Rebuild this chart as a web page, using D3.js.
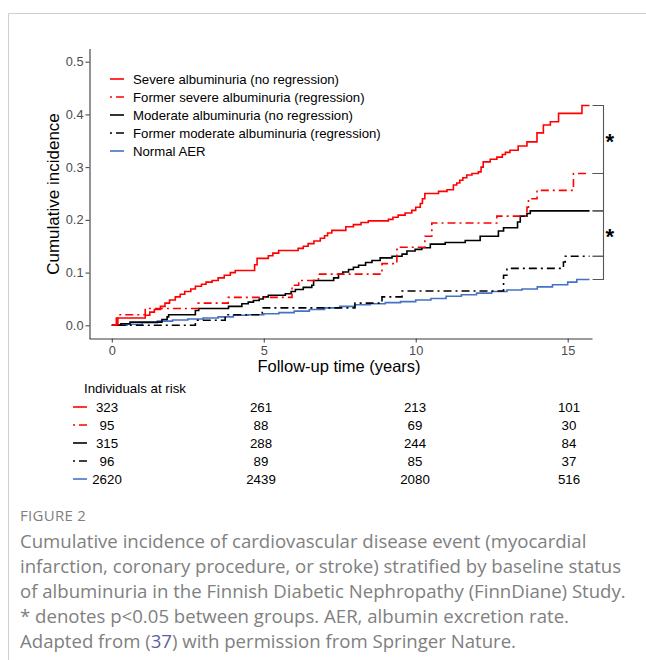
<!DOCTYPE html>
<html>
<head>
<meta charset="utf-8">
<script src="https://cdn.jsdelivr.net/npm/d3@7"></script>
<style>
  html, body { margin: 0; padding: 0; background: #fff; }
  svg { display: block; }
</style>
</head>
<body>
<svg id="chart" width="646" height="660"></svg>
<script>
// ---------------- DATA ----------------
const seriesNames = [
  "Severe albuminuria (no regression)",
  "Former severe albuminuria (regression)",
  "Moderate albuminuria (no regression)",
  "Former moderate albuminuria (regression)",
  "Normal AER"
];
const endTime = 15.72;

const severeT = [0, 0.15, 1.1, 1.25, 1.4, 1.6, 1.75, 1.9, 2.09, 2.25, 2.4, 2.6, 2.75, 2.95, 3.1, 3.3, 3.5, 3.7, 3.9, 4.06, 4.7, 4.78, 5.15, 5.3, 5.49, 6.13, 6.3, 6.46, 6.65, 6.86, 7.0, 7.1, 7.24, 7.7, 7.95, 8.2, 8.44, 9.1, 9.25, 9.42, 9.65, 9.87, 10.0, 10.15, 10.22, 10.3, 10.75, 11.03, 11.24, 11.35, 11.45, 11.55, 11.68, 11.85, 12.06, 12.15, 12.22, 12.45, 12.67, 12.85, 12.95, 13.1, 13.37, 13.66, 13.99, 14.2, 14.43, 14.7, 15.47];
const severeV = [0, 0.014, 0.019, 0.025, 0.030, 0.036, 0.042, 0.048, 0.054, 0.059, 0.064, 0.069, 0.074, 0.078, 0.082, 0.085, 0.090, 0.095, 0.100, 0.104, 0.115, 0.127, 0.132, 0.137, 0.142, 0.146, 0.150, 0.155, 0.160, 0.165, 0.170, 0.175, 0.180, 0.187, 0.191, 0.195, 0.198, 0.201, 0.205, 0.209, 0.213, 0.218, 0.224, 0.231, 0.240, 0.250, 0.254, 0.257, 0.266, 0.270, 0.275, 0.280, 0.285, 0.288, 0.291, 0.300, 0.310, 0.315, 0.319, 0.324, 0.328, 0.332, 0.340, 0.348, 0.365, 0.380, 0.386, 0.402, 0.417];

const formerSevereT = [0, 0.2, 1.1, 2.84, 3.83, 5.93, 6.15, 6.8, 8.89, 9.38, 9.5, 10.3, 10.53, 12.67, 13.66, 13.71, 13.99, 15.19];
const formerSevereV = [0, 0.020, 0.032, 0.042, 0.053, 0.076, 0.085, 0.097, 0.117, 0.144, 0.148, 0.169, 0.194, 0.207, 0.224, 0.240, 0.256, 0.288];

const moderateT = [0, 0.3, 0.6, 1.65, 1.82, 1.87, 2.75, 2.86, 3.84, 4.28, 4.49, 4.66, 4.85, 4.98, 5.15, 5.71, 5.9, 6.04, 6.3, 6.58, 6.64, 7.3, 7.46, 7.6, 7.79, 7.95, 8.12, 8.35, 8.56, 8.83, 9.22, 9.55, 9.71, 9.98, 10.2, 10.48, 10.97, 11.63, 12.12, 12.72, 12.89, 13.35, 13.44, 13.66, 13.77];
const moderateV = [0, 0.003, 0.006, 0.011, 0.016, 0.020, 0.028, 0.032, 0.036, 0.041, 0.044, 0.047, 0.050, 0.054, 0.057, 0.060, 0.064, 0.068, 0.072, 0.076, 0.085, 0.090, 0.097, 0.101, 0.106, 0.110, 0.114, 0.119, 0.123, 0.128, 0.131, 0.135, 0.141, 0.144, 0.147, 0.154, 0.157, 0.161, 0.169, 0.179, 0.185, 0.196, 0.207, 0.212, 0.217];

const formerModerateT = [0, 2.75, 3.73, 4.95, 8.0, 8.89, 9.55, 12.89, 13.0, 14.86, 14.92];
const formerModerateV = [0, 0.0095, 0.020, 0.033, 0.042, 0.054, 0.065, 0.095, 0.108, 0.120, 0.131];

const normalT = [0, 0.5, 1, 1.5, 2, 2.5, 3, 3.5, 4, 4.5, 5, 5.5, 6, 6.5, 7, 7.5, 8, 8.5, 9, 9.5, 10, 10.5, 11, 11.5, 12, 12.5, 13, 13.5, 14, 14.5, 15, 15.3];
const normalV = [0, 0.002, 0.005, 0.008, 0.010, 0.012, 0.014, 0.016, 0.019, 0.020, 0.022, 0.024, 0.027, 0.030, 0.033, 0.036, 0.039, 0.041, 0.043, 0.045, 0.048, 0.051, 0.055, 0.058, 0.061, 0.064, 0.067, 0.069, 0.073, 0.077, 0.082, 0.087];

const xTicks = [0, 5, 10, 15];
const yTicks = [0.0, 0.1, 0.2, 0.3, 0.4, 0.5];

const riskTimes = [0, 5, 10, 15];
const riskSevere = [323, 261, 213, 101];
const riskFormerSevere = [95, 88, 69, 30];
const riskModerate = [315, 288, 244, 84];
const riskFormerModerate = [96, 89, 85, 37];
const riskNormal = [2620, 2439, 2080, 516];

// bracket levels (end values of curves) and significance marks
const bracketTop = [0.417, 0.288, 0.217, 0.131];
const bracketBottom = [0.288, 0.217, 0.131, 0.087];
const bracketLabel = ["*", "", "*", ""];

const captionTitle = "FIGURE 2";

// ---------------- STYLES ----------------
const colors = ["#ff0000", "#ff0000", "#000000", "#000000", "#4472c4"];
const dashes = [null, "2,4,8,4", null, "2,4,8,4", null];

const svg = d3.select("#chart");

// frame
svg.append("path")
  .attr("d", "M8.5,660 V13.5 H646")
  .attr("fill", "none").attr("stroke", "#cfcfcf").attr("stroke-width", 1);

const x = d3.scaleLinear().domain([-0.75, 15.8]).range([89, 592]);
const y = d3.scaleLinear().domain([-0.025, 0.525]).range([338.5, 48.5]);

const fontChart = "'Liberation Sans', Arial, sans-serif";

// axes
const yAxis = svg.append("g").attr("transform", "translate(89.5,0)")
  .call(d3.axisLeft(y).tickValues(yTicks).tickFormat(d3.format(".1f")).tickSize(4).tickSizeOuter(0));
const xAxis = svg.append("g").attr("transform", "translate(0,338.5)")
  .call(d3.axisBottom(x).tickValues(xTicks).tickFormat(d3.format("d")).tickSize(4).tickSizeOuter(0));
[yAxis, xAxis].forEach(g => {
  g.select(".domain").attr("stroke", "#3a3a3a").attr("stroke-width", 1.1);
  g.selectAll(".tick line").attr("stroke", "#3a3a3a");
  g.selectAll(".tick text").attr("fill", "#4d4d4d").style("font-family", fontChart).style("font-size", "12.8px");
});
yAxis.selectAll(".tick text").attr("x", -6);
xAxis.selectAll(".tick text").attr("y", 7);

// axis titles
svg.append("text")
  .attr("transform", "translate(59,194) rotate(-90)")
  .attr("text-anchor", "middle")
  .style("font-family", fontChart).style("font-size", "17px").attr("fill", "#000")
  .text("Cumulative incidence");
svg.append("text")
  .attr("x", 339).attr("y", 372)
  .attr("text-anchor", "middle")
  .style("font-family", fontChart).style("font-size", "16.5px").attr("fill", "#000")
  .text("Follow-up time (years)");

// curves
const seriesT = [severeT, formerSevereT, moderateT, formerModerateT, normalT];
const seriesV = [severeV, formerSevereV, moderateV, formerModerateV, normalV];
const line = d3.line().x(d => x(d[0])).y(d => y(d[1])).curve(d3.curveStepAfter);

// draw order: normal first, then others
[4, 3, 2, 1, 0].forEach(i => {
  const pts = seriesT[i].map((t, k) => [t, seriesV[i][k]]);
  pts.push([endTime, seriesV[i][seriesV[i].length - 1]]);
  svg.append("path")
    .datum(pts)
    .attr("d", line)
    .attr("fill", "none")
    .attr("stroke", colors[i])
    .attr("stroke-width", 1.6)
    .attr("stroke-dasharray", dashes[i])
    .attr("stroke-linejoin", "miter");
});

// brackets
const bx0 = x(endTime) + 3, bx1 = 603.5;
bracketTop.forEach((top, i) => {
  const bot = bracketBottom[i];
  const yt = y(top), yb = y(bot);
  svg.append("path")
    .attr("d", `M${bx0},${yt} H${bx1} V${yb} H${bx0}`)
    .attr("fill", "none").attr("stroke", "#555").attr("stroke-width", 1.1);
  if (bracketLabel[i]) {
    svg.append("text")
      .attr("x", 605.5).attr("y", (yt + yb) / 2 + 10)
      .style("font-family", fontChart).style("font-size", "22px").style("font-weight", "bold")
      .attr("fill", "#000")
      .text(bracketLabel[i]);
  }
});

// legend
const legendY = [79, 97, 115, 133, 151];
seriesNames.forEach((name, i) => {
  svg.append("line")
    .attr("x1", 110).attr("x2", 124).attr("y1", legendY[i]).attr("y2", legendY[i])
    .attr("stroke", colors[i]).attr("stroke-width", 1.6)
    .attr("stroke-dasharray", dashes[i]);
  svg.append("text")
    .attr("x", 133).attr("y", legendY[i]).attr("dy", "0.36em")
    .style("font-family", fontChart).style("font-size", "13.2px").attr("fill", "#000")
    .text(name);
});

// risk table
svg.append("text")
  .attr("x", 84).attr("y", 388).attr("dy", "0.36em")
  .style("font-family", fontChart).style("font-size", "13.3px").attr("fill", "#000")
  .text("Individuals at risk");
const xt = d3.scaleLinear().domain([0, 15]).range([107, 569]);
const riskRows = [riskSevere, riskFormerSevere, riskModerate, riskFormerModerate, riskNormal];
const riskY = [407, 425, 443, 461, 479];
riskRows.forEach((row, i) => {
  svg.append("line")
    .attr("x1", 73).attr("x2", 87).attr("y1", riskY[i]).attr("y2", riskY[i])
    .attr("stroke", colors[i]).attr("stroke-width", 1.6)
    .attr("stroke-dasharray", dashes[i]);
  row.forEach((n, k) => {
    svg.append("text")
      .attr("x", xt(riskTimes[k])).attr("y", riskY[i]).attr("dy", "0.36em")
      .attr("text-anchor", "middle")
      .style("font-family", fontChart).style("font-size", "13.3px").attr("fill", "#000")
      .text(n);
  });
});

// caption
const fontCap = "'Open Sans', 'Noto Sans', sans-serif";
svg.append("text")
  .attr("x", 20).attr("y", 521)
  .style("font-family", fontCap).style("font-size", "15px").attr("fill", "#808080")
  .style("letter-spacing", "0.3px")
  .text(captionTitle);
const capLines = [
  [["Cumulative incidence of cardiovascular disease event (myocardial", null]],
  [["infarction, coronary procedure, or stroke) stratified by baseline status", null]],
  [["of albuminuria in the Finnish Diabetic Nephropathy (FinnDiane) Study.", null]],
  [["* denotes p<0.05 between groups. AER, albumin excretion rate.", null]],
  [["Adapted from (", null], ["37", "#5b5ea6"], [") with permission from Springer Nature.", null]]
];
capLines.forEach((parts, i) => {
  const t = svg.append("text")
    .attr("x", 20).attr("y", 548 + i * 25)
    .style("font-family", fontCap).style("font-size", "18.6px").attr("fill", "#808080");
  parts.forEach(p => {
    const ts = t.append("tspan").text(p[0]);
    if (p[1]) ts.attr("fill", p[1]);
  });
});
</script>
</body>
</html>
